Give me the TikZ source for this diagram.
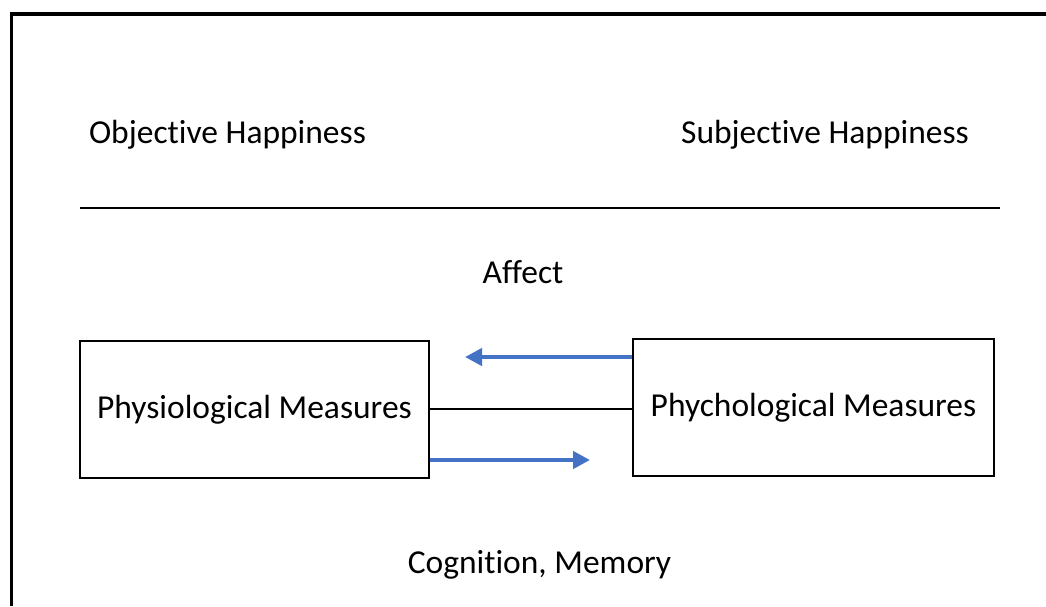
\documentclass[tikz,border=0pt]{standalone}
\usepackage{fontspec}
\setmainfont{Carlito}[Ligatures={NoCommon}]
\usetikzlibrary{arrows.meta}
\definecolor{arrowblue}{HTML}{4472C4}
\begin{document}
\begin{tikzpicture}[x=1pt,y=-1pt,
  lbl/.style={anchor=base,inner sep=0pt,font=\fontsize{33.5}{40}\selectfont},
  measbox/.style={draw,line width=2.3pt,inner sep=0pt,minimum height=137pt,font=\fontsize{33.5}{40}\selectfont},
  flow/.style={draw=arrowblue,line width=4.5pt,-{Triangle[length=17pt,width=17pt]}},
  link/.style={draw,line width=2.3pt}]
\useasboundingbox (0,0) rectangle (1046,606);
\fill[white] (0,0) rectangle (1046,606);
% outer frame (open at right and bottom)
\draw[line width=3.8pt] (11.5,606) -- (11.5,14) -- (1046,14);
% headings
\node[lbl] (obj) at (227.5,143) {Objective Happiness};
\node[lbl] (subj) at (825,143) {Subjective Happiness};
\coordinate (ruleL) at (80,208);
\coordinate (ruleR) at (1000,208);
\draw[line width=2.8pt] (ruleL) -- (ruleR);
\node[lbl] (affect) at (523,283) {Affect};
\node[lbl] (cog) at (539.5,573) {Cognition, Memory};
% boxes
\node[measbox,minimum width=349pt] (phys) at (254.5,409.5) {Physiological Measures};
\node[measbox,minimum width=361pt] (psych) at (813.5,407.5) {Phychological Measures};
% connectors
\draw[link] (phys.east |- 0,409) -- (psych.west |- 0,409);
\coordinate (tipL) at (465,357);
\draw[flow] (psych.west |- tipL) -- (tipL);
\coordinate (tipR) at (590,460);
\draw[flow] (phys.east |- tipR) -- (tipR);
\end{tikzpicture}
\end{document}
